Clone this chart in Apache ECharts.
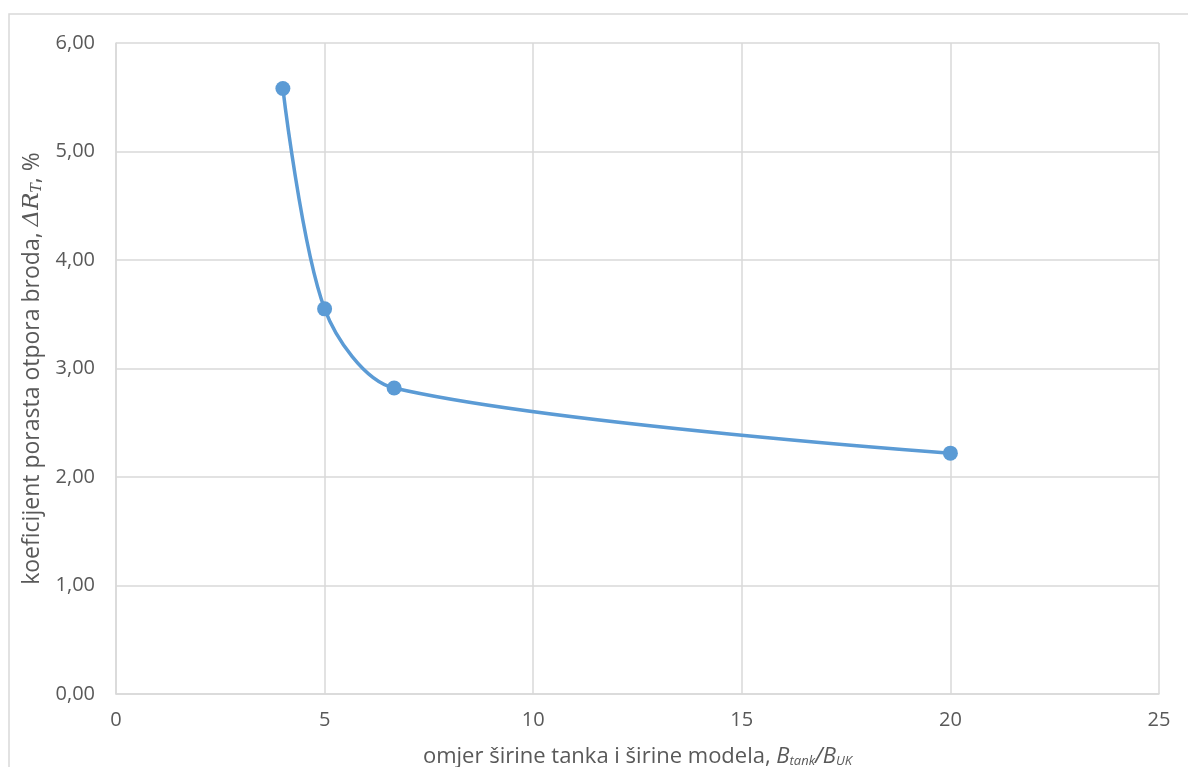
<!DOCTYPE html>
<html>
<head>
<meta charset="utf-8">
<script src="https://cdn.jsdelivr.net/npm/echarts@6/dist/echarts.min.js"></script>
<style>
html,body{margin:0;padding:0;background:#fff;}
#c{width:1188px;height:767px;}
</style>
</head>
<body>
<div id="c"></div>
<script>
const xValues = [4, 5, 6.667, 20];
const yValues = [5.58, 3.55, 2.82, 2.22];
const xTicks = [0, 5, 10, 15, 20, 25];
const yTicks = [0, 1, 2, 3, 4, 5, 6];

const FONT = "'Open Sans', 'Noto Sans', sans-serif";
const chart = echarts.init(document.getElementById('c'), null, {renderer: 'canvas'});
const data = xValues.map((x, i) => [x, yValues[i]]);

chart.setOption({
  animation: false,
  backgroundColor: '#fff',
  graphic: [{
    type: 'rect',
    shape: {x: 9, y: 14, width: 1300, height: 900},
    style: {fill: 'none', stroke: '#d9d9d9', lineWidth: 1.5},
    silent: true
  }],
  grid: {left: 116, top: 43, right: 29, bottom: 73, containLabel: false, outerBoundsMode: 'none'},
  xAxis: {
    type: 'value',
    min: 0, max: 25, interval: 5,
    axisLine: {show: true, lineStyle: {color: '#d9d9d9', width: 1.5}},
    axisTick: {show: false},
    splitLine: {show: true, lineStyle: {color: '#d9d9d9', width: 1.5}},
    axisLabel: {color: '#595959', fontSize: 20, fontFamily: FONT, margin: 16},
    name: '{n|omjer širine tanka i širine modela, }{b|B}{s|tank}{b|/B}{s|UK}',
    nameLocation: 'middle',
    nameGap: 52,
    nameTextStyle: {
      rich: {
        n: {fontSize: 22, color: '#595959', fontFamily: FONT},
        b: {fontSize: 22, color: '#595959', fontFamily: FONT, fontStyle: 'italic'},
        s: {fontSize: 13, color: '#595959', fontFamily: FONT, fontStyle: 'italic', verticalAlign: 'bottom', padding: [7, 0, 0, 0]}
      }
    }
  },
  yAxis: {
    type: 'value',
    min: 0, max: 6, interval: 1,
    axisLine: {show: true, lineStyle: {color: '#d9d9d9', width: 1.5}},
    axisTick: {show: false},
    splitLine: {show: true, lineStyle: {color: '#d9d9d9', width: 1.5}},
    axisLabel: {
      color: '#595959', fontSize: 20, fontFamily: FONT, margin: 21,
      formatter: v => v.toFixed(2).replace('.', ',')
    },
    name: '{n|koeficijent porasta otpora broda, }{m|ΔR}{ms|T}{n|, %}',
    nameLocation: 'middle',
    nameGap: 72,
    nameRotate: 90,
    nameTextStyle: {
      rich: {
        n: {fontSize: 23, color: '#595959', fontFamily: FONT},
        m: {fontSize: 23, color: '#595959', fontFamily: "'DejaVu Serif', serif", fontStyle: 'italic'},
        ms: {fontSize: 14, color: '#595959', fontFamily: "'DejaVu Serif', serif", fontStyle: 'italic', verticalAlign: 'bottom', padding: [7, 0, 0, 0]}
      }
    }
  },
  series: [{
    type: 'line',
    data: data,
    smooth: 0.3,
    symbol: 'circle',
    symbolSize: 15,
    itemStyle: {color: '#5b9bd5'},
    lineStyle: {color: '#5b9bd5', width: 3.5}
  }]
});
</script>
</body>
</html>
